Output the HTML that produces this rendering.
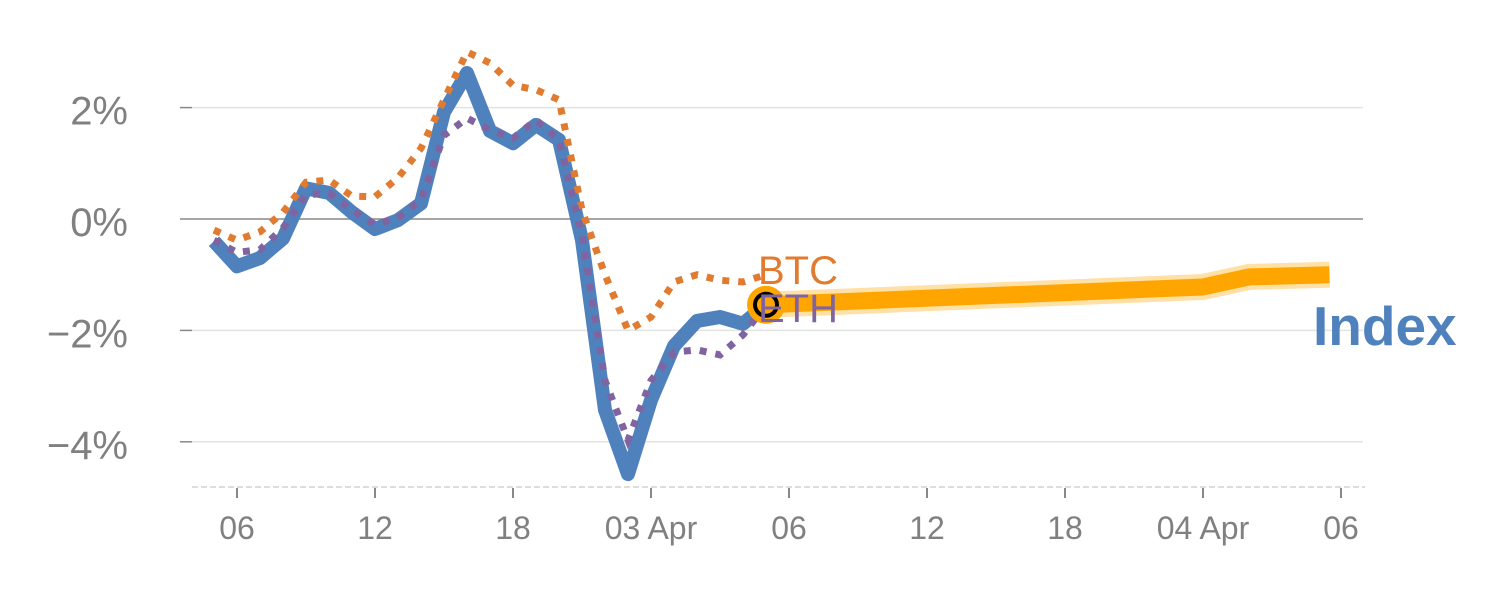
<!DOCTYPE html>
<html><head><meta charset="utf-8"><style>
body{margin:0;background:#fff}
svg{display:block;font-family:"Liberation Sans",sans-serif}
</style></head><body>
<svg id="c" width="1500" height="600"></svg>
<script>
const hours=[0,1,2,3,4,5,6,7,8,9,10,11,12,13,14,15,16,17,18,19,20,21,22,23,24];
const indexVals=[-0.4,-0.85,-0.7,-0.35,0.55,0.47,0.12,-0.18,-0.02,0.28,1.92,2.62,1.58,1.36,1.69,1.42,-0.38,-3.43,-4.58,-3.25,-2.28,-1.83,-1.76,-1.88,-1.54];
const btcVals=[-0.2,-0.38,-0.23,0.12,0.66,0.7,0.41,0.4,0.74,1.27,2.14,3.0,2.8,2.4,2.32,2.14,0.16,-1.0,-2.0,-1.76,-1.13,-1.0,-1.1,-1.13,-1.0];
const ethVals=[-0.38,-0.6,-0.55,-0.16,0.43,0.47,0.16,-0.1,0.02,0.34,1.5,1.81,1.6,1.45,1.78,1.42,-0.29,-2.9,-3.97,-2.9,-2.39,-2.35,-2.44,-2.08,-1.54];
const fcHours=[24,43,45,48.5];
const fcVals=[-1.54,-1.22,-1.04,-1.0];
const yTicks=[2,0,-2,-4];
const yTickLabels=["2%","0%","\u22122%","\u22124%"];
const xTicks=[1,7,13,19,25,31,37,43,49];
const xTickLabels=["06","12","18","03 Apr","06","12","18","04 Apr","06"];

const NS="http://www.w3.org/2000/svg";
const svg=document.getElementById('c');
const X=h=>214+23*h;
const Y=v=>219-55.7*v;
function mk(t,a,p){const e=document.createElementNS(NS,t);for(const k in a)e.setAttribute(k,a[k]);(p||svg).appendChild(e);return e;}
yTicks.forEach((v,i)=>{
  const g=mk('line',{x1:192,x2:1363,y1:Y(v),y2:Y(v),stroke:v===0?'#888':'#e3e3e3','stroke-width':1.5});
  
  
  const tk=mk('line',{x1:180,x2:192,y1:Y(v),y2:Y(v),stroke:'#888','stroke-width':1.5});
  
  
  const t=mk('text',{x:128,y:Y(v)+17,'text-anchor':'end','font-size':40,fill:'#808080'});
  t.textContent=yTickLabels[i];
  
  
});
const ax=mk('line',{x1:192,x2:1365,y1:487,y2:487,stroke:'#ddd','stroke-width':2,'stroke-dasharray':'6,3'});


xTicks.forEach((h,i)=>{
  const tk=mk('line',{x1:X(h),x2:X(h),y1:488,y2:498,stroke:'#888','stroke-width':2});
  
  
  const t=mk('text',{x:X(h),y:539,'text-anchor':'middle','font-size':32,fill:'#808080'});
  t.textContent=xTickLabels[i];
  
  
});
function pts(hs,vs){return hs.map((h,i)=>X(h)+','+Y(vs[i])).join(' ');}
const f1=mk('polyline',{points:pts(fcHours,fcVals),fill:'none',stroke:'#ffa500','stroke-opacity':0.35,'stroke-width':26,'stroke-linejoin':'round'});


const f2=mk('polyline',{points:pts(fcHours,fcVals),fill:'none',stroke:'#ffa500','stroke-width':17,'stroke-linejoin':'round'});


const li=mk('polyline',{points:pts(hours,indexVals),fill:'none',stroke:'#4f81bd','stroke-width':14,'stroke-linejoin':'round'});


const lb=mk('polyline',{points:pts(hours,btcVals),fill:'none',stroke:'#e07b30','stroke-width':7,'stroke-dasharray':'7,9'});


const le=mk('polyline',{points:pts(hours,ethVals),fill:'none',stroke:'#8064a2','stroke-width':7,'stroke-dasharray':'7,9'});


const tb=mk('text',{x:758,y:284,'font-size':40,fill:'#e07b30'});tb.textContent='BTC';


const m1=mk('circle',{cx:X(24),cy:Y(fcVals[0]),r:19,fill:'#ffa500'});


const m2=mk('circle',{cx:X(24),cy:Y(fcVals[0]),r:11,fill:'none',stroke:'#000','stroke-width':4});


const te=mk('text',{x:758,y:322,'font-size':40,fill:'#8064a2'});te.textContent='ETH';


const ti=mk('text',{x:1313,y:345,'font-size':55,'font-weight':'bold',fill:'#4f81bd'});ti.textContent='Index';


</script>
</body></html>
